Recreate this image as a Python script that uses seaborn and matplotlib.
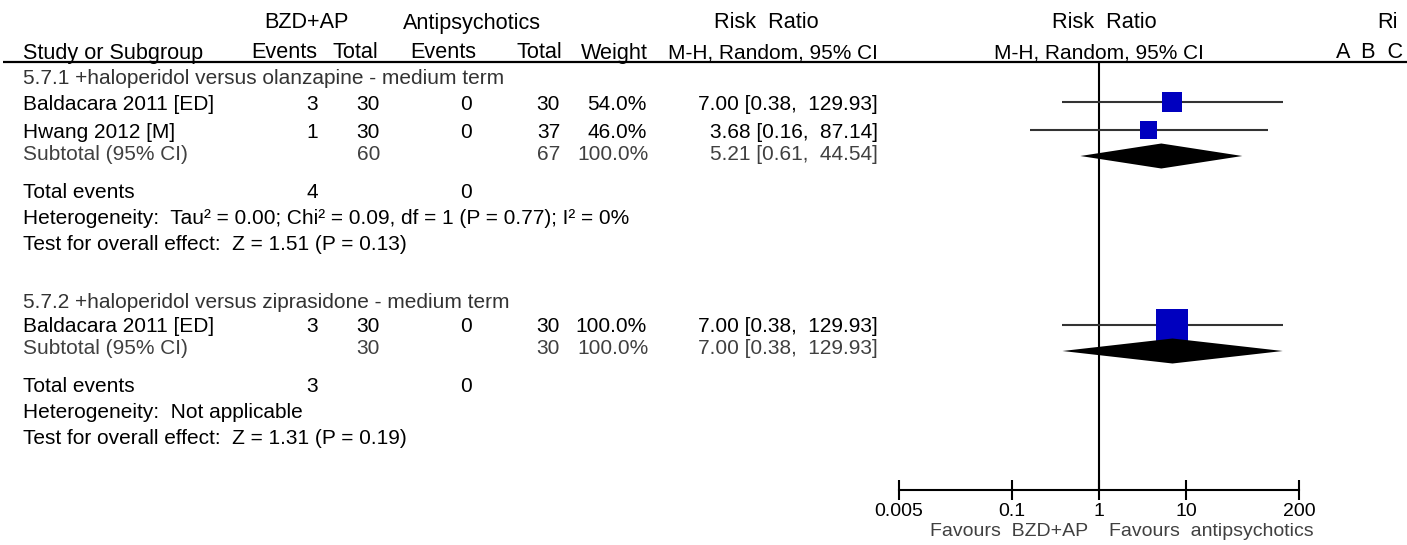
import matplotlib
matplotlib.use("Agg")
import matplotlib.pyplot as plt
from matplotlib.ticker import NullLocator
import pandas as pd
import seaborn as sns

sns.set_style("white")
plt.rcParams["font.family"] = ["Liberation Sans", "DejaVu Sans"]

# ---- values ----
subgroups = ["5.7.1 +haloperidol versus olanzapine - medium term",
             "5.7.2 +haloperidol versus ziprasidone - medium term"]
study_names = ["Baldacara 2011 [ED]", "Hwang 2012 [M]", "Baldacara 2011 [ED]"]
study_group = [0, 0, 1]
bzd_events = [3, 1, 3]
bzd_total = [30, 30, 30]
ap_events = [0, 0, 0]
ap_total = [30, 37, 30]
weights = [54.0, 46.0, 100.0]
rr = [7.00, 3.68, 7.00]
rr_lo = [0.38, 0.16, 0.38]
rr_hi = [129.93, 87.14, 129.93]

sub_bzd_total = [60, 30]
sub_ap_total = [67, 30]
sub_weight = [100.0, 100.0]
sub_rr = [5.21, 7.00]
sub_lo = [0.61, 0.38]
sub_hi = [44.54, 129.93]
tot_bzd_events = [4, 3]
tot_ap_events = [0, 0]
heterogeneity = ["Tau\u00b2 = 0.00; Chi\u00b2 = 0.09, df = 1 (P = 0.77); I\u00b2 = 0%",
                 "Not applicable"]
overall_effect = ["Z = 1.51 (P = 0.13)", "Z = 1.31 (P = 0.19)"]

axis_ticks = [0.005, 0.1, 1, 10, 200]
axis_labels = ["0.005", "0.1", "1", "10", "200"]
favours = ["Favours  BZD+AP", "Favours  antipsychotics"]

# ---- layout (pixel coordinates of a 1407 x 545 canvas) ----
W, H = 1407, 545
FS = 15
HS = 15.6
GREY = "#404040"
title_y = [77, 300]
col_bzd_ev, col_bzd_tot, col_ap_ev, col_ap_tot, col_w, col_ci = 318, 380, 472, 560, 647, 878
X0, X1 = 899, 1299
AXIS_Y = 490

fig = plt.figure(figsize=(W / 100, H / 100), dpi=100)
tab = fig.add_axes([0, 0, 1, 1])
tab.set_xlim(0, W)
tab.set_ylim(H, 0)
tab.axis("off")


def put(x, y, s, ha="left", color="black", size=FS):
    tab.text(x, y + 7.5, s, ha=ha, va="baseline", color=color, fontsize=size)


# header
put(306, 21, "BZD+AP", ha="center", size=HS)
put(472, 21, "Antipsychotics", ha="center", size=HS)
put(766, 21, "Risk  Ratio", ha="center", size=HS)
put(1104, 21, "Risk  Ratio", ha="center", size=HS)
put(1377, 21, "Ri", size=HS)
put(23, 51, "Study or Subgroup", size=HS)
put(317, 51, "Events", ha="right", size=HS)
put(378, 51, "Total", ha="right", size=HS)
put(476, 51, "Events", ha="right", size=HS)
put(562, 51, "Total", ha="right", size=HS)
put(648, 51, "Weight", ha="right", size=HS)
put(878, 51, "M-H, Random, 95% CI", ha="right", size=FS)
put(1099, 51, "M-H, Random, 95% CI", ha="center", size=FS)
put(1403, 51, "A  B  C", ha="right", size=HS)
tab.hlines(62, 3, W, color="black", lw=1.6)

# table rows
rows = []
sub_y = []
for g, name in enumerate(subgroups):
    y = title_y[g]
    put(23, y, name, color="#333333")
    idx = [i for i, s in enumerate(study_group) if s == g]
    for k, i in enumerate(idx):
        y = title_y[g] + 25 + 28 * k
        rows.append(y)
        put(23, y, study_names[i])
        put(col_bzd_ev, y, f"{bzd_events[i]}", ha="right")
        put(col_bzd_tot, y, f"{bzd_total[i]}", ha="right")
        put(col_ap_ev, y, f"{ap_events[i]}", ha="right")
        put(col_ap_tot, y, f"{ap_total[i]}", ha="right")
        put(col_w, y, f"{weights[i]:.1f}%", ha="right")
        put(col_ci, y, f"{rr[i]:.2f} [{rr_lo[i]:.2f},  {rr_hi[i]:.2f}]", ha="right")
    y += 22
    sub_y.append(y + 4)
    put(23, y, "Subtotal (95% CI)", color=GREY)
    put(col_bzd_tot, y, f"{sub_bzd_total[g]}", ha="right", color=GREY)
    put(col_ap_tot, y, f"{sub_ap_total[g]}", ha="right", color=GREY)
    put(col_w + 2, y, f"{sub_weight[g]:.1f}%", ha="right", color=GREY)
    put(col_ci, y, f"{sub_rr[g]:.2f} [{sub_lo[g]:.2f},  {sub_hi[g]:.2f}]", ha="right", color=GREY)
    y += 38
    put(23, y, "Total events")
    put(col_bzd_ev, y, f"{tot_bzd_events[g]}", ha="right")
    put(col_ap_ev, y, f"{tot_ap_events[g]}", ha="right")
    y += 26
    put(23, y, "Heterogeneity:  " + heterogeneity[g])
    y += 26
    put(23, y, "Test for overall effect:  " + overall_effect[g])

# ---- forest panel ----
fax = fig.add_axes([X0 / W, 0, (X1 - X0) / W, 1])
fax.patch.set_alpha(0)
studies = pd.DataFrame({"rr": rr, "lo": rr_lo, "hi": rr_hi, "weight": weights, "y": rows})

fax.vlines(1, 62, AXIS_Y, color="black", lw=1.5, zorder=1)
fax.hlines(studies["y"], studies["lo"], studies["hi"], color="#333333", lw=1.5, zorder=2)
sns.scatterplot(data=studies, x="rr", y="y", size="weight", sizes=(150, 531),
                marker="s", color="#0000bf", linewidth=0, legend=False, ax=fax, zorder=3)
for g in range(len(subgroups)):
    yc = sub_y[g]
    fax.fill([sub_lo[g], sub_rr[g], sub_hi[g], sub_rr[g]],
             [yc, yc - 12.5, yc, yc + 12.5], color="black", lw=0, zorder=4)

fax.set_xscale("log")
fax.set_xlim(axis_ticks[0], axis_ticks[-1])
fax.set_ylim(H, 0)
fax.set_xticks(axis_ticks)
fax.set_xticklabels(axis_labels)
fax.xaxis.set_minor_locator(NullLocator())
fax.set_yticks([])
fax.set_xlabel("")
fax.set_ylabel("")
for side in ["left", "top", "right"]:
    fax.spines[side].set_visible(False)
fax.spines["bottom"].set_position(("data", AXIS_Y))
fax.spines["bottom"].set_color("black")
fax.spines["bottom"].set_linewidth(1.5)
fax.tick_params(axis="x", which="major", direction="inout", length=14, width=1.5,
                labelsize=14, pad=2, colors="black", bottom=True)

tab.text(1088, 532, favours[0], ha="right", va="center", color=GREY, fontsize=14)
tab.text(1109, 532, favours[1], ha="left", va="center", color=GREY, fontsize=14)

fig.savefig("out.png", dpi=100)
